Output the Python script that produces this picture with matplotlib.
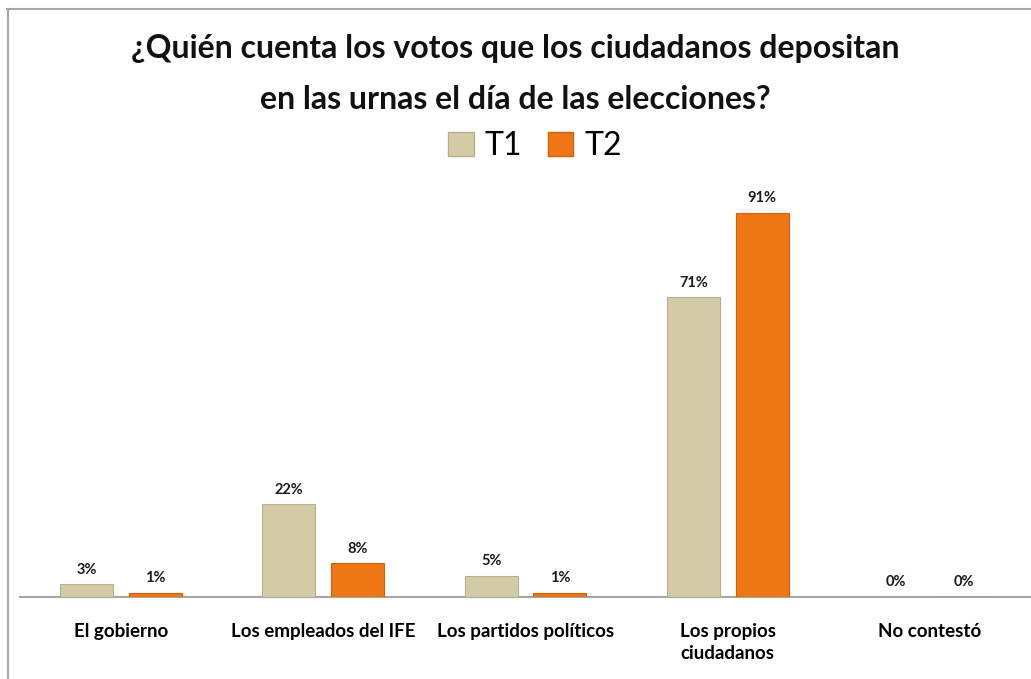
import matplotlib
matplotlib.use("Agg")
import matplotlib.pyplot as plt
import numpy as np
from matplotlib.patches import Patch
from matplotlib.lines import Line2D

plt.rcParams['font.family'] = ['Lato', 'DejaVu Sans']

categories = ["El gobierno", "Los empleados del IFE", "Los partidos políticos",
              "Los propios\nciudadanos", "No contestó"]
t1 = [3, 22, 5, 71, 0]
t2 = [1, 8, 1, 91, 0]
series_names = ["T1", "T2"]
title = "¿Quién cuenta los votos que los ciudadanos depositan\nen las urnas el día de las elecciones?"

c1 = "#D3CBA5"
c2 = "#EF7614"
e1 = "#B8AF86"
e2 = "#D0620C"

fig = plt.figure(figsize=(10.31, 6.79), dpi=100)
ax = fig.add_axes([20/1031, (679-597)/679, 1 - 20/1031, (597-192)/679])

x = np.arange(len(categories))
w = 0.262
off = 0.17
b1 = ax.bar(x - off, t1, w, color=c1, edgecolor=e1, linewidth=0.8, zorder=3)
b2 = ax.bar(x + off, t2, w, color=c2, edgecolor=e2, linewidth=0.8, zorder=3)

for bars, vals in ((b1, t1), (b2, t2)):
    for r, v in zip(bars, vals):
        ax.annotate(f"{v}%", (r.get_x() + r.get_width()/2, v),
                    xytext=(0, 5.5), textcoords="offset points",
                    ha="center", va="bottom", fontsize=10.5, fontweight="bold",
                    color="#1a1a1a")

ax.set_xlim(-0.5, len(categories) - 0.5)
ax.set_ylim(0, 96)
for s in ["top", "right", "left"]:
    ax.spines[s].set_visible(False)
ax.spines["bottom"].set_color("#A6A6A6")
ax.spines["bottom"].set_linewidth(1.5)
ax.set_yticks([])
ax.set_xticks(x)
ax.set_xticklabels(categories, fontsize=13.5, fontweight="bold", va="top",
                   linespacing=1.3)
ax.tick_params(axis="x", length=0, pad=19)

fig.text(0.5, 1 - 74/679, title, ha="center", va="center", fontsize=23,
         fontweight="bold", linespacing=1.95, color="#111111")

handles = [Patch(facecolor=c1, edgecolor=e1), Patch(facecolor=c2, edgecolor=e2)]
fig.legend(handles, series_names, loc="center", bbox_to_anchor=(535/1031, 1 - 146/679),
           ncol=2, frameon=False, fontsize=23, handlelength=0.8, handleheight=0.8,
           handletextpad=0.35, columnspacing=0.8)

# chart frame
fig.add_artist(Line2D([7/1031, 1], [1 - 8.5/679, 1 - 8.5/679], color="#A6A6A6",
                      linewidth=1.5, transform=fig.transFigure))
fig.add_artist(Line2D([7.5/1031, 7.5/1031], [0, 1 - 8.5/679], color="#A6A6A6",
                      linewidth=1.5, transform=fig.transFigure))

fig.savefig("out.png", dpi=100, facecolor="white")
